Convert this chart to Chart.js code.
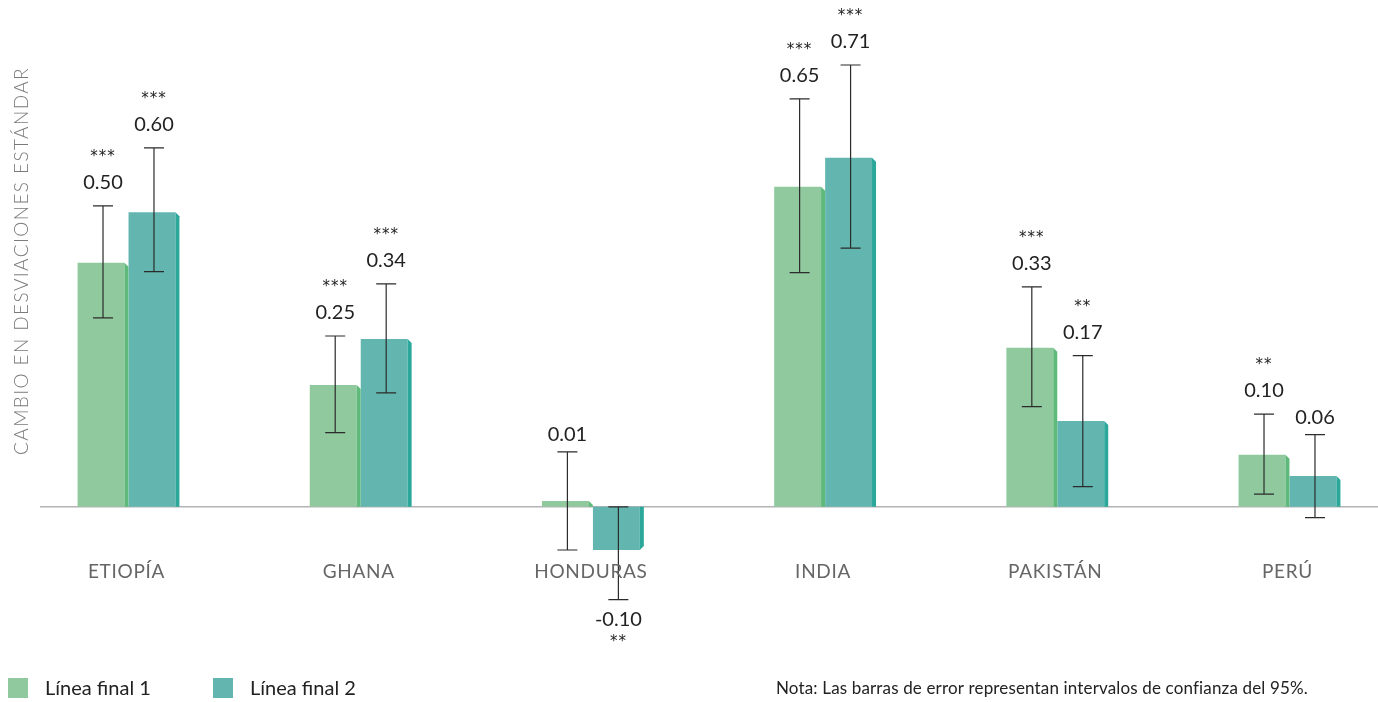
<!DOCTYPE html>
<html>
<head>
<meta charset="utf-8">
<script src="https://cdn.jsdelivr.net/npm/chart.js@4"></script>
<style>
  body { margin: 0; background: #fff; }
  #wrap { width: 1378px; height: 702px; position: relative; }
</style>
</head>
<body>
<div id="wrap"><canvas id="impactChart"></canvas></div>
<script>
const countries = ['ETIOPÍA', 'GHANA', 'HONDURAS', 'INDIA', 'PAKISTÁN', 'PERÚ'];
const seriesNames = ['Línea final 1', 'Línea final 2'];

const final1 = [0.497, 0.248, 0.012, 0.652, 0.324, 0.106];
const final2 = [0.600, 0.342, -0.088, 0.711, 0.175, 0.063];
const final1Labels = ['0.50', '0.25', '0.01', '0.65', '0.33', '0.10'];
const final2Labels = ['0.60', '0.34', '-0.10', '0.71', '0.17', '0.06'];

// 95% confidence intervals
const final1Low = [0.385, 0.151, -0.088, 0.477, 0.204, 0.026];
const final1High = [0.613, 0.348, 0.112, 0.831, 0.448, 0.189];
const final2Low = [0.479, 0.232, -0.189, 0.527, 0.041, -0.022];
const final2High = [0.731, 0.454, 0.000, 0.900, 0.308, 0.147];

const stars1 = ['***', '***', '', '***', '***', '**'];
const stars2 = ['***', '***', '**', '***', '**', ''];

const colors = ['#91c99e', '#63b6af'];
const sideColors = ['#5fb97b', '#2ca89b'];
const FONT = 'Lato, "Open Sans", sans-serif';

const extras = [
  { low: final1Low, high: final1High, labels: final1Labels, stars: stars1 },
  { low: final2Low, high: final2High, labels: final2Labels, stars: stars2 }
];

const decorPlugin = {
  id: 'decor',
  beforeDatasetsDraw(chart) {
    const { ctx } = chart;
    const y0 = chart.scales.y.getPixelForValue(0);
    ctx.save();
    ctx.strokeStyle = '#b4b4b4';
    ctx.lineWidth = 1.5;
    ctx.beginPath();
    ctx.moveTo(40, y0);
    ctx.lineTo(chart.width, y0);
    ctx.stroke();
    ctx.restore();
  },
  afterDatasetsDraw(chart) {
    const { ctx } = chart;
    const yScale = chart.scales.y;
    const xScale = chart.scales.x;
    ctx.save();

    chart.data.datasets.forEach((ds, di) => {
      const meta = chart.getDatasetMeta(di);
      const ex = extras[di];
      meta.data.forEach((bar, i) => {
        const right = bar.x + bar.width / 2;
        const top = Math.min(bar.y, bar.base);
        const bottom = Math.max(bar.y, bar.base);
        const neg = ds.data[i] < 0;
        // side strip
        ctx.fillStyle = sideColors[di];
        ctx.beginPath();
        if (neg) {
          ctx.moveTo(right, top);
          ctx.lineTo(right + 4, top);
          ctx.lineTo(right + 4, bottom - 4);
          ctx.lineTo(right, bottom);
        } else {
          ctx.moveTo(right, top);
          ctx.lineTo(right + 4, top + 4);
          ctx.lineTo(right + 4, bottom);
          ctx.lineTo(right, bottom);
        }
        ctx.closePath();
        ctx.fill();

        // error bar
        const cx = bar.x + 2;
        const yHi = yScale.getPixelForValue(ex.high[i]);
        const yLo = yScale.getPixelForValue(ex.low[i]);
        ctx.strokeStyle = '#2b2b2b';
        ctx.lineWidth = 1.2;
        ctx.beginPath();
        ctx.moveTo(cx, yHi); ctx.lineTo(cx, yLo);
        ctx.moveTo(cx - 10, yHi); ctx.lineTo(cx + 10, yHi);
        ctx.moveTo(cx - 10, yLo); ctx.lineTo(cx + 10, yLo);
        ctx.stroke();

        // value label and significance stars
        ctx.fillStyle = '#222';
        ctx.textAlign = 'center';
        ctx.textBaseline = 'middle';
        const hasStars = ex.stars[i] !== '';
        const starFont = '15px "DejaVu Sans", sans-serif';
        if (!neg) {
          const ly = yHi - (hasStars ? 23 : 17);
          ctx.font = '20px ' + FONT;
          ctx.fillText(ex.labels[i], cx, ly);
          if (hasStars) {
            ctx.font = starFont;
            ctx.letterSpacing = '1px';
            ctx.fillText(ex.stars[i], cx, yHi - 49);
            ctx.letterSpacing = '0px';
          }
        } else {
          ctx.font = '20px ' + FONT;
          ctx.fillText(ex.labels[i], cx, yLo + 20);
          if (hasStars) {
            ctx.font = starFont;
            ctx.letterSpacing = '1px';
            ctx.fillText(ex.stars[i], cx, yLo + 43);
            ctx.letterSpacing = '0px';
          }
        }
      });
    });

    // category labels
    ctx.fillStyle = '#666';
    ctx.font = '19px ' + FONT;
    ctx.letterSpacing = '0.7px';
    ctx.textAlign = 'center';
    ctx.textBaseline = 'middle';
    countries.forEach((c, i) => {
      ctx.fillText(c, xScale.getPixelForValue(i), 572);
    });

    // axis title
    ctx.save();
    ctx.translate(22, 261);
    ctx.rotate(-Math.PI / 2);
    ctx.fillStyle = '#7a7a7a';
    ctx.font = '300 19px ' + FONT;
    ctx.letterSpacing = '1.4px';
    ctx.fillText('CAMBIO EN DESVIACIONES ESTÁNDAR', 0, 0);
    ctx.restore();
    ctx.letterSpacing = '0px';

    // legend
    ctx.textAlign = 'left';
    ctx.font = '20px ' + FONT;
    [8, 213].forEach((lx, di) => {
      ctx.fillStyle = colors[di];
      ctx.fillRect(lx, 678, 20, 20);
      ctx.fillStyle = '#222';
      ctx.fillText(seriesNames[di], lx + 37, 689);
    });

    // note
    ctx.font = '17px ' + FONT;
    ctx.letterSpacing = '0.15px';
    ctx.fillText('Nota: Las barras de error representan intervalos de confianza del 95%.', 776, 689);

    ctx.restore();
  }
};

new Chart(document.getElementById('impactChart'), {
  type: 'bar',
  data: {
    labels: countries,
    datasets: [
      { label: seriesNames[0], data: final1, backgroundColor: colors[0] },
      { label: seriesNames[1], data: final2, backgroundColor: colors[1] }
    ]
  },
  options: {
    responsive: true,
    maintainAspectRatio: false,
    animation: false,
    layout: { padding: { left: 126.5, right: 90.5, top: 65, bottom: 97 } },
    datasets: { bar: { categoryPercentage: 0.439, barPercentage: 0.92, clip: false } },
    scales: {
      x: { display: false, offset: false },
      y: { display: false, min: -0.2, max: 0.9 }
    },
    plugins: { legend: { display: false }, tooltip: { enabled: false } }
  },
  plugins: [decorPlugin]
});
</script>
</body>
</html>
